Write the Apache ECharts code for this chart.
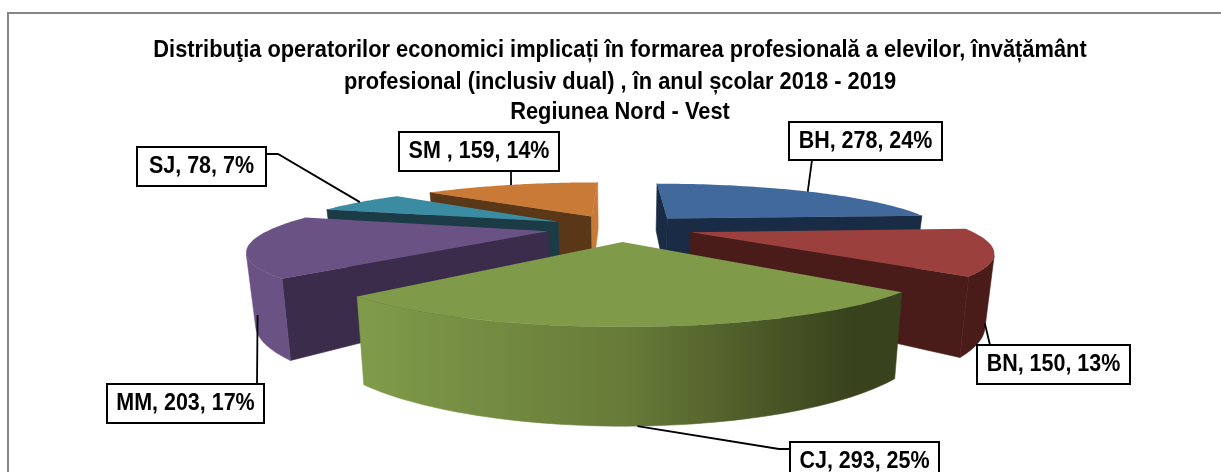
<!DOCTYPE html>
<html>
<head>
<meta charset="utf-8">
<style>
  html, body { margin: 0; padding: 0; background: #fff; }
  #chart { width: 1221px; height: 472px; }
</style>
<script src="https://cdn.jsdelivr.net/npm/echarts@6/dist/echarts.min.js"></script>
</head>
<body>
<div id="chart"></div>
<script>
// date
const categories = ["BH", "BN", "CJ", "MM", "SJ", "SM "];
const values = [278, 150, 293, 203, 78, 159];
const titleLines = [
  "Distribuţia operatorilor economici implicați în formarea profesională a elevilor, învățământ",
  "profesional (inclusiv dual) , în anul școlar 2018 - 2019",
  "Regiunea Nord - Vest"
];

// culori: fata de sus, fata interioara start, fata interioara end, margine
const topColors = ["#41699c", "#9c403e", "#7f9b4a", "#6a5284", "#3b8ba3", "#c97a36"];
const startColors = ["#1a2c45", "#491c1a", "#364019", "#3c2c4b", "#1b3c47", "#5a3817"];
const endColors = ["#1a2c45", "#491c1a", "#364019", "#3c2c4b", "#1b3c47", "#c87b38"];
const rimColors = ["#1a2c45", "#491c1a", null, "#6a5284", "#3b8ba3", "#c97a36"];

// proiectie pie 3D (perspectiva)
const CX = 620, HORIZON = 56.4, F_X = 950, DEPTH = 3.45;
const F_Y = 591, THICK = 217, BOTTOM_X = 0.975, EXPLODE = 0.265;

// textul din original e putin mai ingust decat Liberation Sans
const TEXT_SCALE_X = 0.91;
const titleY = [50, 82, 112];

// cutiile etichetelor: x, y, w, h si colt optional pentru linia de legatura
const labelBoxes = [
  { x: 789, y: 122, w: 153, h: 38, to: [812, 160] },
  { x: 977, y: 345, w: 153, h: 39, to: [990, 345] },
  { x: 790, y: 442, w: 149, h: 39, to: [790, 449], elbow: [779, 449] },
  { x: 107, y: 384, w: 157, h: 39, to: [257, 384] },
  { x: 137, y: 147, w: 129, h: 39, to: [266, 154], elbow: [278, 154] },
  { x: 399, y: 132, w: 160, h: 39, to: [511, 171] }
];

const total = values.reduce((a, b) => a + b, 0);

function project(a, r, ox, oy, bottom) {
  const X = ox + r * Math.sin(a);
  const Y = oy - r * Math.cos(a);
  const d = DEPTH - Y;
  const k = bottom ? BOTTOM_X : 1;
  return [CX + (k * F_X * X) / d, HORIZON + (F_Y + (bottom ? THICK : 0)) / d];
}

function area(pts) {
  let s = 0;
  pts.forEach((p, i) => {
    const q = pts[(i + 1) % pts.length];
    s += p[0] * q[1] - q[0] * p[1];
  });
  return s;
}

function renderSlice(params, api) {
  const i = params.dataIndex;
  const before = values.slice(0, i).reduce((a, b) => a + b, 0);
  const a0 = (before / total) * Math.PI * 2;
  const a1 = ((before + api.value(1)) / total) * Math.PI * 2;
  const mid = (a0 + a1) / 2;
  const ox = EXPLODE * Math.sin(mid);
  const oy = -EXPLODE * Math.cos(mid);
  const order = Math.round((1 - Math.cos(mid)) * 10) * 10;
  const children = [];

  const arc = [];
  const steps = 60;
  for (let s = 0; s <= steps; s++) arc.push(a0 + ((a1 - a0) * s) / steps);
  const topPts = arc.map((a) => project(a, 1, ox, oy, false));
  const botPts = arc.map((a) => project(a, 1, ox, oy, true));
  const apexTop = project(0, 0, ox, oy, false);
  const apexBot = project(0, 0, ox, oy, true);

  // fetele interioare, doar cele vazute
  const startFace = [apexTop, topPts[0], botPts[0], apexBot];
  const endFace = [apexTop, topPts[steps], botPts[steps], apexBot];
  if (area(startFace) < 0) {
    children.push({ type: "polygon", z2: order + 1, shape: { points: startFace },
      style: { fill: startColors[i], stroke: startColors[i], lineWidth: 0.6 } });
  }
  if (area(endFace) > 0) {
    children.push({ type: "polygon", z2: order + 1, shape: { points: endFace },
      style: { fill: endColors[i], stroke: endColors[i], lineWidth: 0.6 } });
  }

  // marginea exterioara
  let run = [];
  const rimFill = rimColors[i] || new echarts.graphic.LinearGradient(botPts[steps][0], 0, botPts[0][0], 0, [
    { offset: 0, color: "#7f9b4a" },
    { offset: 0.5, color: "#677a38" },
    { offset: 0.92, color: "#38421c" },
    { offset: 1, color: "#38421c" }
  ], true);
  const flush = () => {
    if (run.length > 1) {
      const pts = run.map((s) => topPts[s]).concat(run.slice().reverse().map((s) => botPts[s]));
      children.push({ type: "polygon", z2: order + 2, shape: { points: pts },
        style: { fill: rimFill, stroke: rimFill, lineWidth: 0.6 } });
    }
    run = [];
  };
  for (let s = 0; s < steps; s++) {
    const quad = [topPts[s], topPts[s + 1], botPts[s + 1], botPts[s]];
    if (area(quad) < 0) {
      if (!run.length) run.push(s);
      run.push(s + 1);
    } else {
      flush();
    }
  }
  flush();

  // fata de sus
  children.push({ type: "polygon", z2: order + 3, shape: { points: [apexTop].concat(topPts) },
    style: { fill: topColors[i] } });

  // eticheta cu linie de legatura
  const box = labelBoxes[i];
  const anchor = project(mid, 1, ox, oy, Math.cos(mid) < 0);
  const line = [anchor];
  if (box.elbow) line.push(box.elbow);
  line.push(box.to);
  const pct = Math.round((api.value(1) / total) * 100);
  children.push({ type: "polyline", z2: 1000, shape: { points: line },
    style: { fill: null, stroke: "#000", lineWidth: 1.8 } });
  children.push({ type: "rect", z2: 1001, shape: { x: box.x, y: box.y, width: box.w, height: box.h },
    style: { fill: "#fff", stroke: "#000", lineWidth: 2 } });
  children.push({ type: "text", z2: 1002,
    x: box.x + box.w / 2, y: box.y + box.h / 2, scaleX: TEXT_SCALE_X,
    style: {
      text: `${categories[i]}, ${api.value(1)}, ${pct}%`,
      x: 0, y: 0, align: "center", verticalAlign: "middle",
      font: 'bold 23.6px "Liberation Sans"', fill: "#000" } });

  return { type: "group", children };
}

const chart = echarts.init(document.getElementById("chart"), null, { renderer: "canvas" });
chart.setOption({
  backgroundColor: "#fff",
  animation: false,
  graphic: [
    { type: "rect", z: 0, shape: { x: 8, y: 13, width: 1300, height: 500 },
      style: { fill: "#fff", stroke: "#868686", lineWidth: 2 } }
  ].concat(titleLines.map((t, i) => ({
    type: "text", z: 1, x: CX, y: titleY[i], scaleX: TEXT_SCALE_X,
    style: { text: t, x: 0, y: 0, align: "center", verticalAlign: "middle",
      font: 'bold 24px "Liberation Sans"', fill: "#000" }
  }))),
  series: [
    {
      type: "custom",
      coordinateSystem: "none",
      data: categories.map((c, i) => [c, values[i]]),
      renderItem: renderSlice,
      silent: true
    }
  ]
});
</script>
</body>
</html>
